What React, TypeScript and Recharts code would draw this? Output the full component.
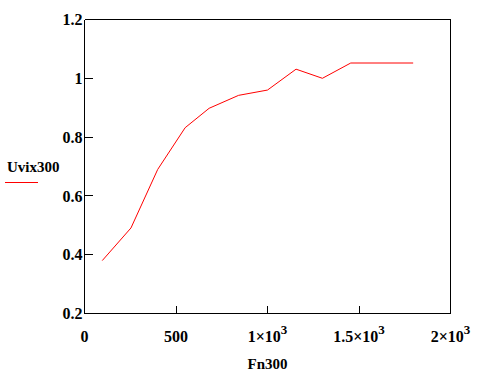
import { LineChart, Line, XAxis, YAxis } from 'recharts'

// values
const fn300 = [97, 254, 400, 550, 681, 842, 1000, 1156, 1300, 1455, 1796]
const uvix300 = [0.38, 0.491, 0.69, 0.832, 0.898, 0.942, 0.96, 1.031, 1.0, 1.052, 1.052]

const xTicks = [0, 500, 1000, 1500, 2000]
const xTickBase = ['0', '500', '1×10', '1.5×10', '2×10']
const xTickExp = ['', '', '3', '3', '3']
const yTicks = [0.2, 0.4, 0.6, 0.8, 1, 1.2]

const data = fn300.map((x, i) => ({ fn: x, uvix: uvix300[i] }))

const font = "'Liberation Serif', 'Times New Roman', serif"
const textStyle = { fontFamily: font, fontWeight: 700 }
const frame = { stroke: '#000', strokeWidth: 1, shapeRendering: 'crispEdges' }

function XTick(props: any) {
  const { x, y, payload } = props
  const i = xTicks.indexOf(payload.value)
  return (
    <text x={x} y={y} textAnchor="middle" style={textStyle} fontSize={16} fill="#000">
      <tspan>{xTickBase[i]}</tspan>
      {xTickExp[i] && <tspan dy={-8} fontSize={13}>{xTickExp[i]}</tspan>}
    </text>
  )
}

function YTick(props: any) {
  const { x, y, payload } = props
  return (
    <text x={x} y={y} dy="0.35em" textAnchor="end" style={textStyle} fontSize={16} fill="#000">
      {payload.value}
    </text>
  )
}

function YLabel(props: any) {
  const vb = props.viewBox
  const cy = vb.y + vb.height / 2
  return (
    <g>
      <text x={vb.x + 7} y={cy + 5} style={textStyle} fontSize={15} fill="#000">Uvix300</text>
      <line x1={vb.x + 5} x2={vb.x + 38} y1={cy + 16} y2={cy + 16} stroke="#ff0000" strokeWidth={1} shapeRendering="crispEdges" />
    </g>
  )
}

function XLabel(props: any) {
  const vb = props.viewBox
  return (
    <text x={vb.x + vb.width / 2} y={vb.y + vb.height - 8} textAnchor="middle" style={textStyle} fontSize={15} fill="#000">
      Fn300
    </text>
  )
}

export default function App() {
  return (
    <div style={{ position: 'absolute', left: 0, top: 0, background: '#fff', fontFamily: font }}>
      <LineChart width={495} height={377} data={data} margin={{ top: 0, right: 0, bottom: 0, left: 0 }}>
        <XAxis
          xAxisId="b" dataKey="fn" type="number" domain={[0, 2000]} ticks={xTicks}
          height={63.5} tickSize={-8} tickMargin={36.5} tick={<XTick />}
          axisLine={frame} tickLine={frame}
          label={{ content: <XLabel /> }}
        />
        <XAxis
          xAxisId="t" orientation="top" dataKey="fn" type="number" domain={[0, 2000]} ticks={xTicks}
          height={19.5} tickSize={-8} tick={false}
          axisLine={frame} tickLine={frame}
        />
        <YAxis
          yAxisId="l" type="number" domain={[0.2, 1.2]} ticks={yTicks}
          width={84.5} tickSize={-8} tickMargin={10} tick={<YTick />}
          axisLine={frame} tickLine={frame}
          label={{ content: <YLabel /> }}
        />
        <YAxis
          yAxisId="r" orientation="right" type="number" domain={[0.2, 1.2]} ticks={yTicks}
          width={44.5} tickSize={-8} tick={false}
          axisLine={frame} tickLine={frame}
        />
        <Line
          xAxisId="b" yAxisId="l" dataKey="uvix" type="linear" stroke="#ff0000" strokeWidth={1}
          dot={false} activeDot={false} isAnimationActive={false}
        />
      </LineChart>
    </div>
  )
}
